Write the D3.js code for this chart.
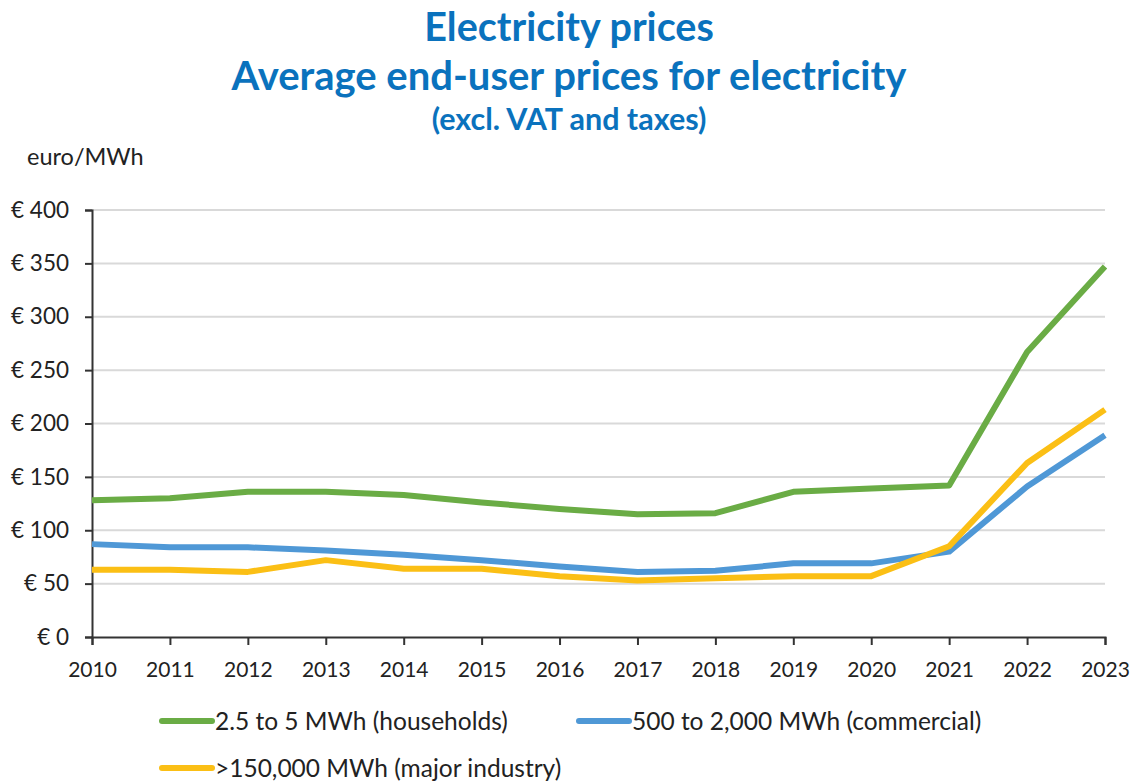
<!DOCTYPE html>
<html>
<head>
<meta charset="utf-8">
<script src="https://cdn.jsdelivr.net/npm/d3@7"></script>
<style>
  html, body { margin: 0; padding: 0; background: #fff; }
  svg { display: block; font-family: Lato, "Open Sans", sans-serif; }
</style>
</head>
<body>
<svg id="chart" width="1138" height="782"></svg>
<script>
// Average end-user electricity prices, euro/MWh (excl. VAT and taxes)
const years = [2010, 2011, 2012, 2013, 2014, 2015, 2016, 2017, 2018, 2019, 2020, 2021, 2022, 2023];
const households = [128, 130, 136, 136, 133, 126, 120, 115, 116, 136, 139, 142, 267, 347];
const commercial = [87, 84, 84, 81, 77, 72, 66, 61, 62, 69, 69, 80, 141, 189];
const industry = [63, 63, 61, 72, 64, 64, 57, 53, 55, 57, 57, 85, 163, 213];
const yTicks = [0, 50, 100, 150, 200, 250, 300, 350, 400];

const seriesNames = ["2.5 to 5 MWh (households)", "500 to 2,000 MWh (commercial)", ">150,000 MWh (major industry)"];
const seriesColors = ["#6aac45", "#4f98d6", "#fbbf15"];
const seriesValues = [households, commercial, industry];

const svg = d3.select("#chart");
const plot = { left: 92, right: 1105, top: 210, bottom: 637 };

const x = d3.scaleLinear().domain([years[0], years[years.length - 1]]).range([plot.left, plot.right]);
const y = d3.scaleLinear().domain([0, 400]).range([plot.bottom, plot.top]);

// Titles
const titleColor = "#0a72bd";
svg.append("text").attr("x", 569).attr("y", 41).attr("text-anchor", "middle")
  .attr("font-size", 39.5).attr("font-weight", 700).attr("fill", titleColor).text("Electricity prices");
svg.append("text").attr("x", 569).attr("y", 90).attr("text-anchor", "middle")
  .attr("font-size", 40).attr("font-weight", 700).attr("fill", titleColor).text("Average end-user prices for electricity");
svg.append("text").attr("x", 569).attr("y", 130).attr("text-anchor", "middle")
  .attr("font-size", 30.5).attr("font-weight", 700).attr("fill", titleColor).text("(excl. VAT and taxes)");

svg.append("text").attr("x", 27).attr("y", 165).attr("font-size", 23.5).attr("fill", "#222").text("euro/MWh");

// Gridlines
svg.append("g").selectAll("line").data(yTicks.filter(d => d > 0)).join("line")
  .attr("x1", plot.left).attr("x2", plot.right)
  .attr("y1", d => y(d)).attr("y2", d => y(d))
  .attr("stroke", "#d9d9d9").attr("stroke-width", 2);

// Y axis
const yAxis = svg.append("g").attr("transform", `translate(${plot.left},0)`)
  .call(d3.axisLeft(y).tickValues(yTicks).tickSize(7).tickPadding(16).tickFormat(d => "€ " + d));
yAxis.select(".domain").attr("stroke", "#333").attr("stroke-width", 2);
yAxis.selectAll(".tick line").attr("stroke", "#333").attr("stroke-width", 2);
yAxis.selectAll(".tick text").attr("font-size", 22.5).attr("fill", "#222").attr("font-family", "Lato, sans-serif");

// X axis
const xAxis = svg.append("g").attr("transform", `translate(0,${plot.bottom})`)
  .call(d3.axisBottom(x).tickValues(years).tickSize(8).tickPadding(17).tickFormat(d3.format("d")));
xAxis.select(".domain").attr("stroke", "#333").attr("stroke-width", 2);
xAxis.selectAll(".tick line").attr("stroke", "#333").attr("stroke-width", 2);
xAxis.selectAll(".tick text").attr("font-size", 21).attr("fill", "#222").attr("font-family", "Lato, sans-serif");

// Lines
const line = d3.line().x((d, i) => x(years[i])).y(d => y(d));
svg.append("g").selectAll("path").data(seriesValues).join("path")
  .attr("d", line)
  .attr("fill", "none")
  .attr("stroke", (d, i) => seriesColors[i])
  .attr("stroke-width", 6)
  .attr("stroke-linejoin", "round");

// Legend
const legendPos = [[160, 721], [577, 721], [160, 768]];
const legend = svg.append("g").selectAll("g").data(seriesNames).join("g")
  .attr("transform", (d, i) => `translate(${legendPos[i][0]},${legendPos[i][1]})`);
legend.append("line").attr("x1", 2).attr("x2", 52).attr("y1", 0).attr("y2", 0)
  .attr("stroke", (d, i) => seriesColors[i]).attr("stroke-width", 6).attr("stroke-linecap", "round");
legend.append("text").attr("x", 55).attr("y", 8.5).attr("font-size", 24.5).attr("fill", "#222").text(d => d);
</script>
</body>
</html>
